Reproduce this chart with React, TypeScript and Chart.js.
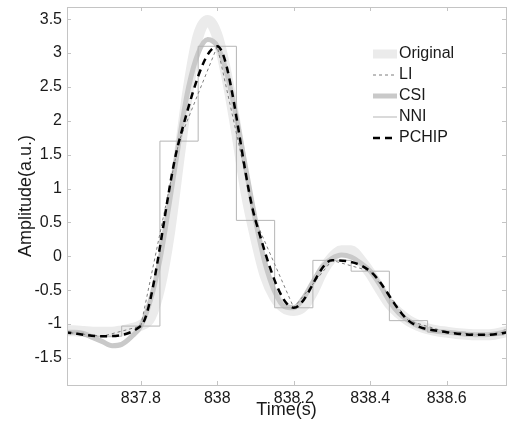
import React, { useEffect, useRef } from 'react';
import { Chart, registerables } from 'chart.js';

Chart.register(...registerables);

// Sampled signal (10 Hz samples)
const sampleTimes = [837.6, 837.7, 837.8, 837.9, 838.0, 838.1, 838.2, 838.3, 838.4, 838.5, 838.6, 838.7, 838.8];
const sampleValues = [-1.12, -1.18, -1.03, 1.7, 3.1, 0.53, -0.76, -0.06, -0.22, -0.95, -1.12, -1.16, -1.08];

// Original high-resolution signal
const originalTimes = [
  837.6, 837.625, 837.65, 837.675, 837.7, 837.725, 837.75, 837.775, 837.8, 837.825, 837.85, 837.875,
  837.9, 837.925, 837.95, 837.975, 838.0, 838.025, 838.05, 838.075, 838.1, 838.125, 838.15, 838.175,
  838.2, 838.225, 838.25, 838.275, 838.3, 838.325, 838.35, 838.375, 838.4, 838.425, 838.45, 838.475,
  838.5, 838.525, 838.55, 838.575, 838.6, 838.625, 838.65, 838.675, 838.7, 838.725, 838.75, 838.775,
];
const originalValues = [
  -1.1, -1.1, -1.11, -1.12, -1.12, -1.12, -1.1, -1.07, -1.02, -0.9, -0.45, 0.35,
  1.45, 2.5, 3.25, 3.48, 3.25, 2.65, 1.85, 0.95, 0.28, -0.28, -0.6, -0.76,
  -0.8, -0.74, -0.52, -0.22, -0.02, 0.08, 0.08, -0.06, -0.25, -0.48, -0.7, -0.84,
  -0.95, -1.02, -1.07, -1.1, -1.12, -1.14, -1.15, -1.16, -1.16, -1.15, -1.12, -1.08,
];

// Cubic spline interpolation
const csiTimes = [
  837.6, 837.625, 837.65, 837.675, 837.7, 837.725, 837.75, 837.775, 837.8, 837.825, 837.85, 837.875,
  837.9, 837.925, 837.95, 837.975, 838.0, 838.025, 838.05, 838.075, 838.1, 838.125, 838.15, 838.175,
  838.2, 838.225, 838.25, 838.275, 838.3, 838.325, 838.35, 838.375, 838.4, 838.425, 838.45, 838.475,
  838.5, 838.525, 838.55, 838.575, 838.6, 838.65, 838.7, 838.75, 838.775,
];
const csiValues = [
  -1.12, -1.12, -1.14, -1.2, -1.26, -1.32, -1.3, -1.19, -1.03, -0.65, -0.05, 0.8,
  1.7, 2.5, 3.0, 3.2, 3.1, 2.7, 2.05, 1.28, 0.53, -0.1, -0.52, -0.74,
  -0.76, -0.62, -0.38, -0.15, -0.03, 0.02, -0.01, -0.1, -0.22, -0.42, -0.66, -0.84,
  -0.95, -1.03, -1.08, -1.11, -1.12, -1.15, -1.16, -1.12, -1.08,
];

const xTicks = [837.8, 838.0, 838.2, 838.4, 838.6];
const yTicks = [-1.5, -1, -0.5, 0, 0.5, 1, 1.5, 2, 2.5, 3, 3.5];
const legendLabels = ['Original', 'LI', 'CSI', 'NNI', 'PCHIP'];

const FONT = '"Liberation Sans", Arial, Helvetica, sans-serif';
const FRAME = '#c4c4c4';
const TEXT = '#1a1a1a';

const pts = (xs: number[], ys: number[]) => xs.map((x, i) => ({ x, y: ys[i] }));

const framePlugin = {
  id: 'frame',
  afterDatasetsDraw(chart: any) {
    const { ctx, chartArea: a, scales } = chart;
    ctx.save();
    ctx.strokeStyle = FRAME;
    ctx.lineWidth = 1;
    ctx.setLineDash([]);
    ctx.strokeRect(Math.round(a.left) + 0.5, Math.round(a.top) + 0.5, Math.round(a.right - a.left), Math.round(a.bottom - a.top));
    const tl = 4;
    ctx.beginPath();
    xTicks.forEach((v) => {
      const px = Math.round(scales.x.getPixelForValue(v)) + 0.5;
      ctx.moveTo(px, a.bottom);
      ctx.lineTo(px, a.bottom - tl);
      ctx.moveTo(px, a.top);
      ctx.lineTo(px, a.top + tl);
    });
    yTicks.forEach((v) => {
      const py = Math.round(scales.y.getPixelForValue(v)) + 0.5;
      ctx.moveTo(a.left, py);
      ctx.lineTo(a.left + tl, py);
      ctx.moveTo(a.right, py);
      ctx.lineTo(a.right - tl, py);
    });
    ctx.stroke();
    ctx.restore();
  },
};

const legendPlugin = {
  id: 'innerLegend',
  afterDraw(chart: any) {
    const { ctx, chartArea: a } = chart;
    ctx.save();
    const x0 = a.right - 133;
    const x1 = a.right - 109;
    const y0 = a.top + 47;
    legendLabels.forEach((label, i) => {
      const ds = chart.data.datasets.find((d: any) => d.label === label);
      const y = y0 + i * 21;
      ctx.strokeStyle = ds.borderColor;
      ctx.lineWidth = Math.min(ds.borderWidth, 9);
      ctx.setLineDash(ds.borderDash || []);
      ctx.beginPath();
      ctx.moveTo(x0, y);
      ctx.lineTo(x1, y);
      ctx.stroke();
      ctx.setLineDash([]);
      ctx.fillStyle = TEXT;
      ctx.font = '16px ' + FONT;
      ctx.textBaseline = 'middle';
      ctx.textAlign = 'left';
      ctx.fillText(label, x1 + 2, y);
    });
    ctx.restore();
  },
};

export default function App() {
  const ref = useRef<HTMLCanvasElement | null>(null);

  useEffect(() => {
    document.body.style.margin = '0';
    if (!ref.current) return;
    const chart = new Chart(ref.current, {
      type: 'line',
      data: {
        datasets: [
          {
            label: 'Original',
            data: pts(originalTimes, originalValues),
            borderColor: '#ebebeb',
            borderWidth: 11,
            cubicInterpolationMode: 'monotone',
            pointRadius: 0,
            fill: false,
            order: 5,
          },
          {
            label: 'LI',
            data: pts(sampleTimes, sampleValues),
            borderColor: '#7d7d7d',
            borderWidth: 1,
            borderDash: [3, 3],
            tension: 0,
            pointRadius: 0,
            fill: false,
            order: 2,
          },
          {
            label: 'CSI',
            data: pts(csiTimes, csiValues),
            borderColor: '#c9c9c9',
            borderWidth: 5,
            cubicInterpolationMode: 'monotone',
            pointRadius: 0,
            fill: false,
            order: 4,
          },
          {
            label: 'NNI',
            data: pts(sampleTimes, sampleValues),
            borderColor: '#b5b5b5',
            borderWidth: 1,
            stepped: 'middle',
            pointRadius: 0,
            fill: false,
            order: 3,
          },
          {
            label: 'PCHIP',
            data: pts(sampleTimes, sampleValues),
            borderColor: '#000000',
            borderWidth: 2.5,
            borderDash: [7, 5],
            cubicInterpolationMode: 'monotone',
            pointRadius: 0,
            fill: false,
            order: 1,
          },
        ] as any,
      },
      options: {
        animation: false,
        responsive: false,
        events: [],
        layout: { padding: { top: 7, right: 2, left: 0, bottom: 0 } },
        plugins: {
          legend: { display: false },
          tooltip: { enabled: false },
        },
        scales: {
          x: {
            type: 'linear',
            min: 837.607,
            max: 838.755,
            grid: { display: false, drawTicks: false },
            border: { display: false },
            afterBuildTicks: (s: any) => {
              s.ticks = xTicks.map((v) => ({ value: v }));
            },
            afterFit: (s: any) => {
              s.height = 44;
              s.paddingLeft = 0;
              s.paddingRight = 0;
            },
            ticks: {
              maxRotation: 0,
              autoSkip: false,
              padding: 4,
              color: TEXT,
              font: { family: FONT, size: 16 },
              callback: (v: any) => String(Math.round(Number(v) * 10) / 10),
            },
            title: {
              display: true,
              text: 'Time(s)',
              color: TEXT,
              font: { family: FONT, size: 18 },
              padding: { top: 0, bottom: 8 },
            },
          },
          y: {
            type: 'linear',
            min: -1.9,
            max: 3.68,
            grid: { display: false, drawTicks: false },
            border: { display: false },
            afterBuildTicks: (s: any) => {
              s.ticks = yTicks.map((v) => ({ value: v }));
            },
            afterFit: (s: any) => {
              s.width = 67;
              s.paddingTop = 0;
              s.paddingBottom = 0;
            },
            ticks: {
              autoSkip: false,
              padding: 5,
              color: TEXT,
              font: { family: FONT, size: 16 },
              callback: (v: any) => String(Math.round(Number(v) * 10) / 10),
            },
            title: {
              display: true,
              text: 'Amplitude(a.u.)',
              color: TEXT,
              font: { family: FONT, size: 18 },
              padding: { top: 15, bottom: 0 },
            },
          },
        },
      } as any,
      plugins: [framePlugin, legendPlugin],
    });
    return () => chart.destroy();
  }, []);

  return (
    <div style={{ width: 508, height: 429 }}>
      <canvas ref={ref} width={508} height={429} />
    </div>
  );
}
